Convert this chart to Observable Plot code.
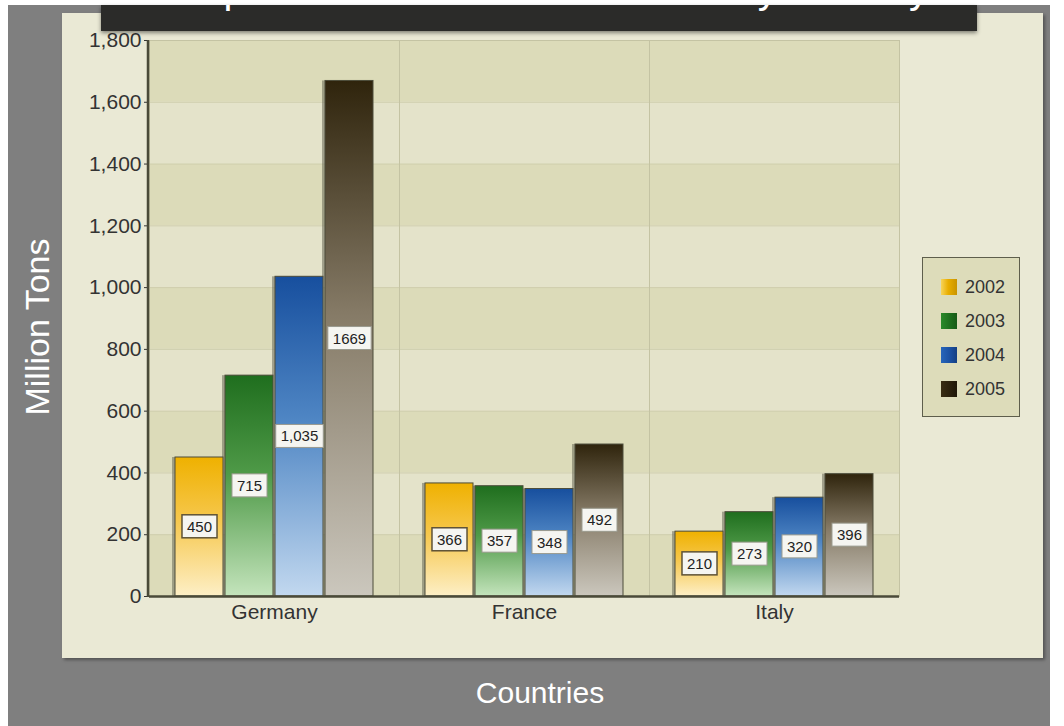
<!DOCTYPE html>
<html>
<head>
<meta charset="utf-8">
<script src="https://cdn.jsdelivr.net/npm/d3@7"></script>
<script src="https://cdn.jsdelivr.net/npm/@observablehq/plot@0.6"></script>
<style>
  html, body { margin: 0; padding: 0; background: #ffffff; width: 1064px; height: 726px; overflow: hidden; font-family: "Liberation Sans", Arial, sans-serif; }
  #bg { position: absolute; left: 8px; top: 5px; width: 1042px; height: 721px; background: #7f7f7f; }
  #panel { position: absolute; left: 62px; top: 13px; width: 981px; height: 645px; background: #eae9d5; box-shadow: 2px 2px 3px rgba(0,0,0,0.35); }
  #chart { position: absolute; left: 0; top: 0; }
  #title { position: absolute; left: 101px; top: 5px; width: 876px; height: 26px; background: #2b2b29; overflow: hidden; box-shadow: 0 2px 4px rgba(0,0,0,0.45); }
  #title span { position: absolute; left: 38px; top: -36px; color: #ffffff; font-size: 40px; line-height: 40px; white-space: nowrap; }
  #ylab { position: absolute; left: 37px; top: 327px; transform: translate(-50%, -50%) rotate(-90deg); color: #ffffff; font-size: 34px; white-space: nowrap; }
  #xlab { position: absolute; left: 540px; top: 693px; transform: translate(-50%, -50%); color: #ffffff; font-size: 30px; white-space: nowrap; }
  #legend { position: absolute; left: 922px; top: 257px; width: 96px; height: 158px; background: #dddcba; border: 1px solid #5e5e4c; }
  .item { position: absolute; left: 18px; height: 20px; display: flex; align-items: center; font-size: 18px; color: #333; }
  .sw { width: 16px; height: 16px; margin-right: 8px; }
</style>
</head>
<body>
<div id="bg"></div>
<div id="panel"></div>
<div id="chart"></div>
<div id="title"><span>Comparison of Waste Production by Country</span></div>
<div id="ylab">Million Tons</div>
<div id="xlab">Countries</div>
<div id="legend"></div>
<script>
// ---- data ----
const countries = ["Germany", "France", "Italy"];
const years = ["2002", "2003", "2004", "2005"];
const values2002 = [450, 366, 210];
const values2003 = [715, 357, 273];
const values2004 = [1035, 348, 320];
const values2005 = [1669, 492, 396];
const labels2002 = ["450", "366", "210"];
const labels2003 = ["715", "357", "273"];
const labels2004 = ["1,035", "348", "320"];
const labels2005 = ["1669", "492", "396"];
const yTicks = [0, 200, 400, 600, 800, 1000, 1200, 1400, 1600, 1800];

// ---- styles ----
const gradStops = {
  "2002": ["#efb100", "#f6c74c", "#fdefc6"],
  "2003": ["#1f6e1e", "#4f9a48", "#c4e4bc"],
  "2004": ["#174f9e", "#4f86c4", "#c2d8ef"],
  "2005": ["#2f240c", "#857a66", "#cbc7bd"]
};
const legendGrads = {
  "2002": "linear-gradient(90deg, #f7d45a 0%, #e9ae00 45%, #c99400 100%)",
  "2003": "linear-gradient(90deg, #2b8a2a 0%, #1d6d1d 60%, #175a17 100%)",
  "2004": "linear-gradient(90deg, #2766bb 0%, #1a4fa0 60%, #143f82 100%)",
  "2005": "linear-gradient(90deg, #3a2e14 0%, #2a200c 60%, #1e1708 100%)"
};

const seriesValues = [values2002, values2003, values2004, values2005];
const seriesLabels = [labels2002, labels2003, labels2004, labels2005];
const rows = [];
countries.forEach((c, i) => {
  years.forEach((y, j) => {
    rows.push({country: c, year: y, value: seriesValues[j][i], label: seriesLabels[j][i]});
  });
});
const bands = yTicks.slice(0, -1).map((t, i) => ({lo: t, hi: yTicks[i + 1]}));
const darkBands = bands.filter((d, i) => i % 2 === 0);
const lightBands = bands.filter((d, i) => i % 2 === 1);

const svg = Plot.plot({
  width: 1064,
  height: 726,
  marginLeft: 148,
  marginRight: 164,
  marginTop: 40,
  marginBottom: 130,
  style: {background: "transparent", fontFamily: "'Liberation Sans', Arial, sans-serif", fontSize: "21px", color: "#333"},
  facet: {data: rows, x: "country"},
  fx: {domain: countries, padding: 0, label: null, axis: "bottom", tickSize: 0, tickPadding: 8},
  x: {domain: years, axis: null, paddingInner: 0.04, paddingOuter: 0.48},
  y: {domain: [0, 1800], ticks: yTicks, tickFormat: d3.format(",d"), label: null, tickSize: 5, tickPadding: 3},
  color: {domain: years, range: years.map(y => `url(#grad${y})`)},
  marks: [
    Plot.rect(darkBands, {y1: "lo", y2: "hi", fill: "#dcdbb9"}),
    Plot.rect(lightBands, {y1: "lo", y2: "hi", fill: "#e4e3ca"}),
    Plot.ruleY(yTicks, {stroke: "#cfceae", strokeWidth: 1}),
    Plot.frame({stroke: "#c4c3a3"}),
    Plot.barY(rows, {x: "year", y: "value", dx: -3, fill: "#6b6b5a", fillOpacity: 0.55}),
    Plot.barY(rows, {x: "year", y: "value", fill: "year", stroke: "#4d4d3b", strokeWidth: 1}),
    Plot.ruleY([0], {stroke: "#4a4a38", strokeWidth: 2.5}),
    Plot.text(rows, {x: "year", y: d => d.value / 2, text: "label", fontSize: 15, fill: "#222"})
  ]
});

document.getElementById("chart").appendChild(svg);

// gradients
const defs = d3.select(svg).insert("defs", ":first-child");
years.forEach(y => {
  const g = defs.append("linearGradient").attr("id", `grad${y}`)
    .attr("x1", 0).attr("y1", 0).attr("x2", 0).attr("y2", 1);
  const s = gradStops[y];
  g.append("stop").attr("offset", "0%").attr("stop-color", s[0]);
  g.append("stop").attr("offset", "45%").attr("stop-color", s[1]);
  g.append("stop").attr("offset", "100%").attr("stop-color", s[2]);
});

// y axis line (from the plot's own y scale)
const ys = svg.scale("y");
d3.select(svg).append("line")
  .attr("x1", 148).attr("x2", 148)
  .attr("y1", ys.apply(0) + 1).attr("y2", ys.apply(1800))
  .attr("stroke", "#4a4a38").attr("stroke-width", 2.5);

// label boxes
const texts = svg.querySelectorAll('g[aria-label="text"] text');
texts.forEach((t, i) => {
  const b = t.getBBox();
  const r = document.createElementNS("http://www.w3.org/2000/svg", "rect");
  const padX = 5, padY = 3;
  r.setAttribute("x", b.x - padX);
  r.setAttribute("y", b.y - padY);
  r.setAttribute("width", b.width + 2 * padX);
  r.setAttribute("height", b.height + 2 * padY);
  r.setAttribute("fill", "#f5f5f1");
  const first = (i % 4 === 0);
  r.setAttribute("stroke", first ? "#5e5236" : "#9a9a8e");
  r.setAttribute("stroke-width", first ? 1.5 : 1);
  if (t.getAttribute("transform")) r.setAttribute("transform", t.getAttribute("transform"));
  t.parentNode.insertBefore(r, t);
});

// legend
const legend = document.getElementById("legend");
years.forEach((y, i) => {
  const it = document.createElement("div");
  it.className = "item";
  it.style.top = (19 + i * 34) + "px";
  const sw = document.createElement("div");
  sw.className = "sw";
  sw.style.background = legendGrads[y];
  it.appendChild(sw);
  const tx = document.createElement("span");
  tx.textContent = y;
  it.appendChild(tx);
  legend.appendChild(it);
});
</script>
</body>
</html>
